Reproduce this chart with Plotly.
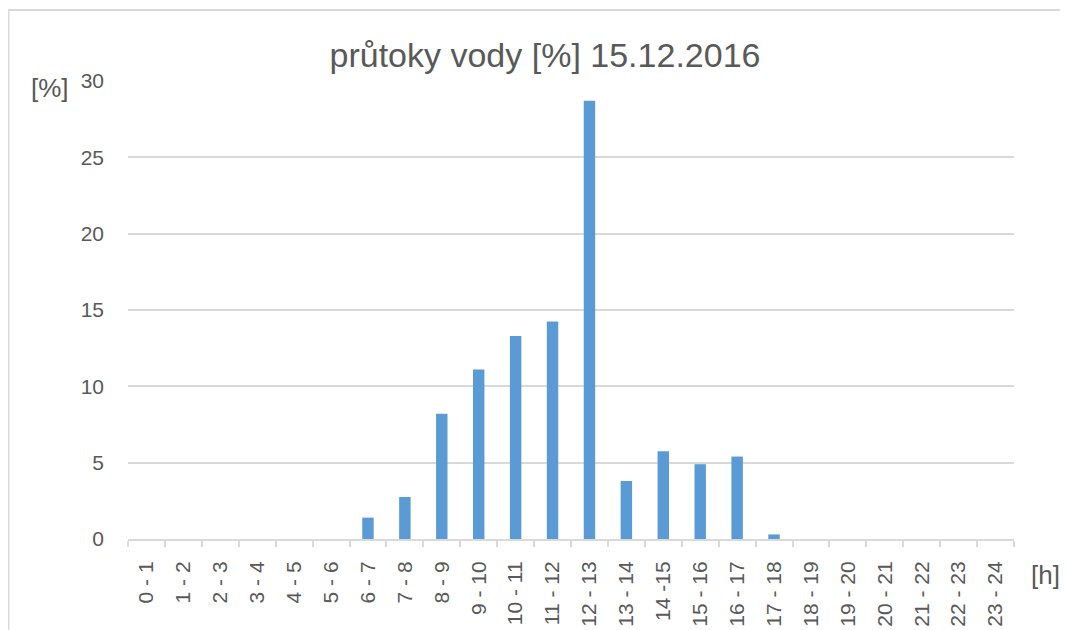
import plotly.graph_objects as go

categories = ["0 - 1", "1 - 2", "2 - 3", "3 - 4", "4 - 5", "5 - 6", "6 - 7", "7 - 8",
              "8 - 9", "9 - 10", "10 - 11", "11 - 12", "12 - 13", "13 - 14", "14 -15",
              "15 - 16", "16 - 17", "17 - 18", "18 - 19", "19 - 20", "20 - 21",
              "21 - 22", "22 - 23", "23 - 24"]
values = [0, 0, 0, 0, 0, 0, 1.4, 2.75, 8.2, 11.1, 13.3, 14.25, 28.7, 3.8, 5.75,
          4.9, 5.4, 0.3, 0, 0, 0, 0, 0, 0]
y_ticks = [0, 5, 10, 15, 20, 25, 30]
title_text = "průtoky vody [%] 15.12.2016"
y_unit = "[%]"
x_unit = "[h]"

TEXT = "#595959"
GRID = "#D9D9D9"
FONT = "Liberation Sans, Arial, sans-serif"

fig = go.Figure()
fig.add_trace(go.Bar(x=categories, y=values, marker=dict(color="#5B9BD5", line=dict(width=0)),
                     hoverinfo="x+y"))

OFF = 8  # page body margin
W, H = 1068 - OFF, 630 - OFF
L, R, T, B = 128 - OFF, 54, 81 - OFF, 91
pw, ph = W - L - R, H - T - B

def px(x):
    return (x - OFF - L) / pw

def py(y):
    return (H - B - (y - OFF)) / ph

fig.update_layout(
    width=W, height=H,
    margin=dict(l=L, r=R, t=T, b=B, autoexpand=False),
    paper_bgcolor="white", plot_bgcolor="white",
    font=dict(family=FONT, color=TEXT),
    bargap=0.69,
    showlegend=False,
    title=dict(text=title_text, x=(545 - OFF) / W, xanchor="center",
               y=1 - (55 - OFF) / H, yanchor="middle",
               xref="container", yref="container",
               font=dict(family=FONT, size=34, color=TEXT)),
    xaxis=dict(
        type="category", tickangle=-90, tickson="boundaries", ticks="outside", ticklen=6,
        tickwidth=2, tickcolor=GRID, showline=True, linecolor=GRID, linewidth=2,
        showgrid=False, tickfont=dict(size=21, color=TEXT), ticklabelstandoff=12,
        automargin=False,
    ),
    yaxis=dict(
        range=[0, 30], tickvals=y_ticks, showgrid=True, gridcolor=GRID, gridwidth=2,
        zeroline=False, showline=False, ticks="", tickfont=dict(size=21, color=TEXT),
        ticklabelstandoff=23, automargin=False,
    ),
    annotations=[
        dict(text=y_unit, xref="paper", yref="paper", x=px(50), y=py(88), showarrow=False,
             xanchor="center", yanchor="middle", font=dict(size=26, color=TEXT, family=FONT)),
        dict(text=x_unit, xref="paper", yref="paper", x=px(1045), y=py(575), showarrow=False,
             xanchor="center", yanchor="middle", font=dict(size=26, color=TEXT, family=FONT)),
    ],
    shapes=[
        dict(type="rect", xref="paper", yref="paper", x0=px(8.5), x1=px(1100), y0=py(700),
             y1=py(10), line=dict(color=GRID, width=2), fillcolor="rgba(0,0,0,0)", layer="below"),
    ],
)

fig.write_html("out.html")
